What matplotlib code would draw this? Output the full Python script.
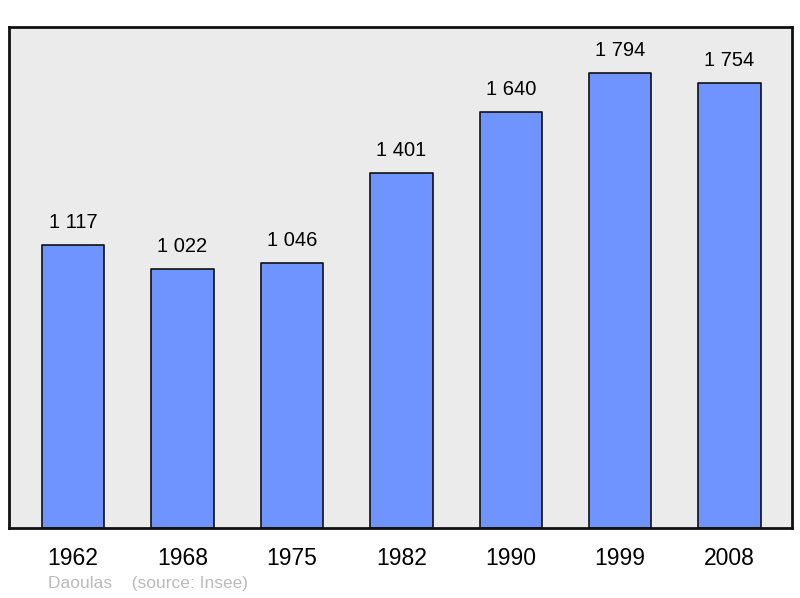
import matplotlib
matplotlib.use("Agg")
import matplotlib.pyplot as plt

plt.rcParams['font.family'] = ['Liberation Sans', 'DejaVu Sans']

years = ["1962", "1968", "1975", "1982", "1990", "1999", "2008"]
population = [1117, 1022, 1046, 1401, 1640, 1794, 1754]
value_labels = ["1 117", "1 022", "1 046", "1 401", "1 640", "1 794", "1 754"]

fig = plt.figure(figsize=(8, 5.98), dpi=100)
ax = fig.add_axes([0.01125, 0.117, 0.97875, 0.838])
ax.set_facecolor('#ebebeb')

x = range(len(years))
bars = ax.bar(x, population, width=0.57, color='#7094ff', edgecolor='#111111',
              linewidth=1.2, joinstyle='round')
for xi, v, lab in zip(x, population, value_labels):
    ax.text(xi, v + 50, lab, ha='center', va='bottom', fontsize=14.5, color='black')

ax.set_xlim(-0.585, 6.57)
ax.set_ylim(0, 1975)
ax.set_yticks([])
ax.set_xticks(list(x))
ax.set_xticklabels(years, fontsize=16.5)
ax.tick_params(axis='x', length=0, pad=14)
for s in ax.spines.values():
    s.set_linewidth(2)
    s.set_color('#111111')

fig.text(0.06, 0.016, "Daoulas    (source: Insee)", fontsize=12.5, color='#bbbbbb')

fig.savefig('out.png', dpi=100, facecolor='white')
